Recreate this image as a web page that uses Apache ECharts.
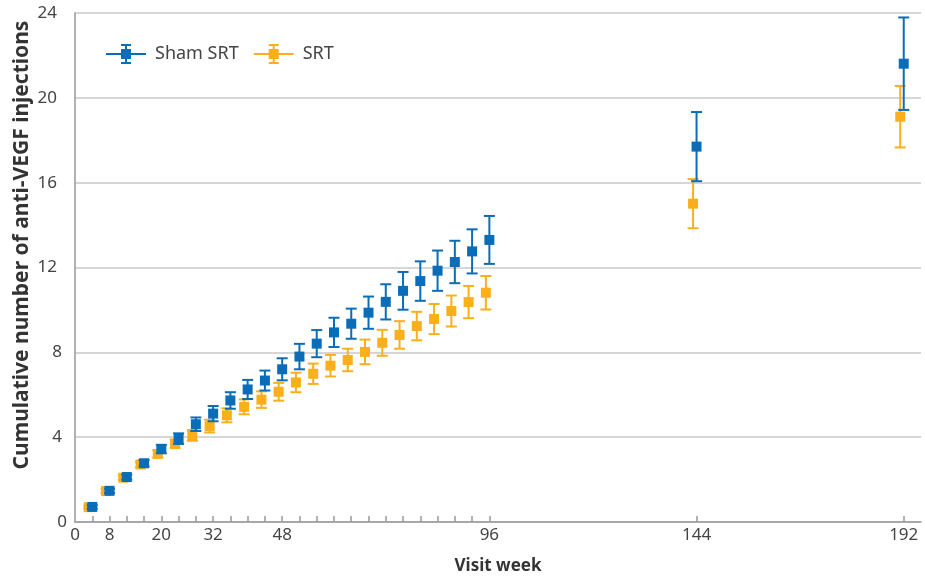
<!DOCTYPE html>
<html>
<head>
<meta charset="utf-8">
<script src="https://cdn.jsdelivr.net/npm/echarts@6/dist/echarts.min.js"></script>
<style>
  html, body { margin: 0; padding: 0; background: #fff; }
  #chart { width: 925px; height: 579px; }
</style>
</head>
<body>
<div id="chart"></div>
<script>
// visit weeks (x)
const weeks = [4, 8, 12, 16, 20, 24, 28, 32, 36, 40, 44, 48, 52, 56, 60, 64, 68, 72, 76, 80, 84, 88, 92, 96, 144, 192];

// cumulative injections, mean and half-width of the error bar
const shamMean = [0.71, 1.47, 2.12, 2.77, 3.44, 3.93, 4.61, 5.11, 5.73, 6.25, 6.67, 7.2, 7.8, 8.41, 8.94, 9.35, 9.87, 10.38, 10.9, 11.36, 11.85, 12.26, 12.76, 13.3, 17.7, 21.61];
const shamErr = [0.08, 0.1, 0.12, 0.15, 0.2, 0.25, 0.32, 0.36, 0.39, 0.45, 0.47, 0.52, 0.6, 0.64, 0.69, 0.71, 0.76, 0.83, 0.89, 0.93, 0.95, 1.0, 1.04, 1.13, 1.63, 2.18];
const srtMean = [0.7, 1.46, 2.09, 2.71, 3.21, 3.69, 4.08, 4.52, 5.03, 5.43, 5.77, 6.14, 6.58, 6.99, 7.37, 7.64, 8.02, 8.45, 8.82, 9.24, 9.57, 9.95, 10.37, 10.81, 15.01, 19.11];
const srtErr = [0.07, 0.09, 0.1, 0.13, 0.17, 0.2, 0.25, 0.3, 0.33, 0.35, 0.39, 0.42, 0.46, 0.48, 0.51, 0.53, 0.58, 0.61, 0.65, 0.67, 0.71, 0.73, 0.76, 0.79, 1.16, 1.45];

const xLabelValues = [0, 8, 20, 32, 48, 96, 144, 192];
const xTickValues = [4, 8, 12, 16, 20, 24, 28, 32, 36, 40, 44, 48, 52, 56, 60, 64, 68, 72, 76, 80, 84, 88, 92, 96, 144, 192];

const BLUE = '#0b6db7';
const ORANGE = '#fbb01b';
const FONT = 'Noto Sans';

// icon: line + square + error bar
const legendIcon = 'path://M0 9H40V11H0Z M15 5H25V15H15Z M19 0H21V20H19Z M15 0H25V2H15Z M15 18H25V20H15Z';

function build(mean, err) {
  return weeks.map((w, i) => [w, mean[i], mean[i] - err[i], mean[i] + err[i]]);
}

function errorBarItem(color, dx) {
  return function (params, api) {
    const p = api.coord([api.value(0), api.value(1)]);
    const lo = api.coord([api.value(0), api.value(2)]);
    const hi = api.coord([api.value(0), api.value(3)]);
    const x = p[0] + dx;
    const cap = 5.5;
    const s = 5;
    const line = { stroke: color, lineWidth: 2 };
    return {
      type: 'group',
      children: [
        { type: 'line', shape: { x1: x, y1: hi[1], x2: x, y2: lo[1] }, style: line },
        { type: 'line', shape: { x1: x - cap, y1: hi[1], x2: x + cap, y2: hi[1] }, style: line },
        { type: 'line', shape: { x1: x - cap, y1: lo[1], x2: x + cap, y2: lo[1] }, style: line },
        { type: 'rect', shape: { x: x - s, y: p[1] - s, width: 2 * s, height: 2 * s }, style: { fill: color } }
      ]
    };
  };
}

const chart = echarts.init(document.getElementById('chart'));

chart.setOption({
  animation: false,
  grid: { left: 75, right: 4, top: 13, bottom: 57, outerBoundsMode: 'none' },
  legend: {
    data: ['Sham SRT', 'SRT'],
    left: 101,
    top: 39,
    itemWidth: 40,
    itemHeight: 20,
    itemGap: 15,
    icon: legendIcon,
    textStyle: { fontFamily: FONT, fontSize: 18, color: '#444', padding: [0, 0, 0, 4] }
  },
  xAxis: {
    type: 'value',
    min: 0,
    max: 196,
    name: 'Visit week',
    nameLocation: 'middle',
    nameGap: 36,
    nameTextStyle: { fontFamily: FONT, fontSize: 17, fontWeight: 'bold', color: '#333' },
    axisLine: { lineStyle: { color: '#999', width: 1.5 } },
    axisTick: { show: true, inside: true, length: 6, customValues: xTickValues, lineStyle: { color: '#999', width: 1.5 } },
    axisLabel: { customValues: xLabelValues, fontFamily: FONT, fontSize: 17, color: '#444', margin: 5 },
    splitLine: { show: false }
  },
  yAxis: {
    type: 'value',
    min: 0,
    max: 24,
    interval: 4,
    axisLine: { show: true, lineStyle: { color: '#999', width: 1.5 } },
    axisTick: { show: false },
    axisLabel: {
      fontFamily: FONT,
      fontSize: 17,
      color: '#444',
      margin: 8,
      formatter: v => (v >= 10 ? '{w|' + v + '}' : v > 0 ? '{m|' + v + '}' : '' + v),
      rich: {
        w: { fontFamily: FONT, fontSize: 17, color: '#444', padding: [0, 10, 0, 0] },
        m: { fontFamily: FONT, fontSize: 17, color: '#444', padding: [0, 5, 0, 0] }
      }
    },
    splitLine: { lineStyle: { color: '#c8c8c8', width: 1.5 } }
  },
  graphic: [{
    type: 'text',
    x: 22,
    y: 245,
    rotation: Math.PI / 2,
    style: {
      text: 'Cumulative number of anti-VEGF injections',
      font: 'bold 21px "Noto Sans"',
      fill: '#333',
      align: 'center',
      verticalAlign: 'middle'
    }
  }],
  series: [
    {
      name: 'Sham SRT',
      type: 'custom',
      z: 3,
      itemStyle: { color: BLUE },
      renderItem: errorBarItem(BLUE, 0),
      encode: { x: 0, y: [1, 2, 3] },
      data: build(shamMean, shamErr)
    },
    {
      name: 'SRT',
      type: 'custom',
      z: 2,
      itemStyle: { color: ORANGE },
      renderItem: errorBarItem(ORANGE, -3.5),
      encode: { x: 0, y: [1, 2, 3] },
      data: build(srtMean, srtErr)
    }
  ]
});
</script>
</body>
</html>
